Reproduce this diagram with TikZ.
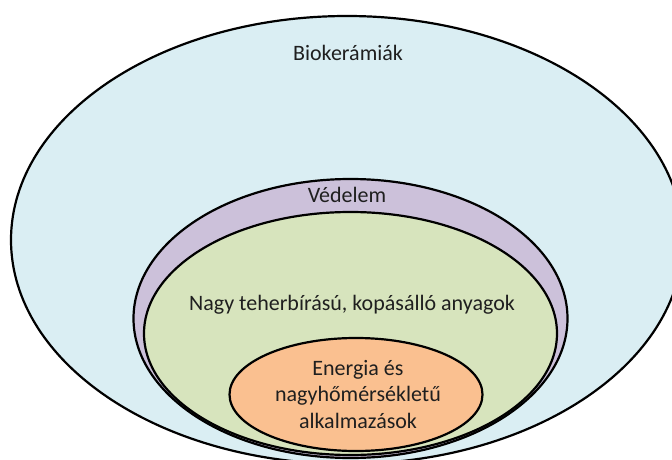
\documentclass[tikz,border=0pt]{standalone}
\usepackage{fontspec}
\setmainfont{Carlito}
\definecolor{bioblue}{HTML}{DAEEF3}
\definecolor{vedpurple}{HTML}{CCC1DA}
\definecolor{teheren}{HTML}{D7E4BD}
\definecolor{energorange}{HTML}{FAC090}
\tikzset{
  ring/.style={draw=black, line width=2.2pt},
  lbl/.style={font=\fontsize{22}{26.5}\selectfont, text=black!88, inner sep=0pt, anchor=base}
}
\begin{document}
\begin{tikzpicture}[x=1pt,y=-1pt]
  \useasboundingbox (0,0) rectangle (672,460);
  \clip (0,0) rectangle (672,460);
  \coordinate (bio) at (347,240);
  \coordinate (ved) at (350.5,318.5);
  \coordinate (teh) at (350.5,333.5);
  \coordinate (ene) at (356,394.5);
  \path[ring, fill=bioblue] (bio) ellipse [x radius=336, y radius=224];
  \path[ring, fill=vedpurple] (ved) ellipse [x radius=217, y radius=139.5];
  \path[ring, fill=teheren] (teh) ellipse [x radius=206.5, y radius=121.5];
  \path[ring, fill=energorange] (ene) ellipse [x radius=126.5, y radius=56.5];
  \node[lbl] (biot) at (348,60) {Biokerámiák};
  \node[lbl] (vedt) at (347,202) {Védelem};
  \node[lbl] (teht) at (352,310) {Nagy teherbírású, kopásálló anyagok};
  \node[lbl, align=center] (enet) at (358,428) {Energia és\\nagyhőmérsékletű\\alkalmazások};
\end{tikzpicture}
\end{document}
